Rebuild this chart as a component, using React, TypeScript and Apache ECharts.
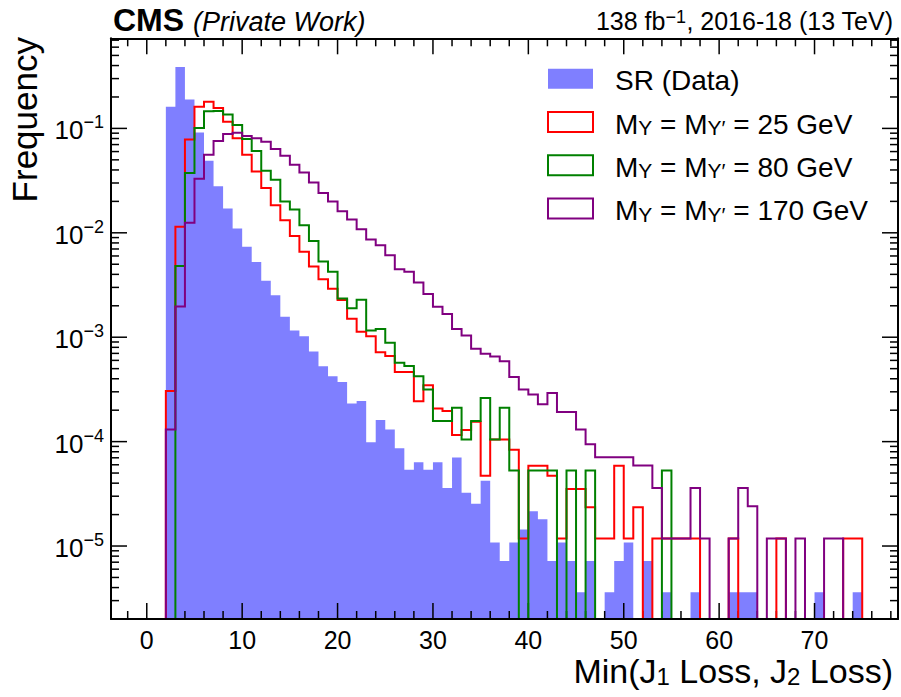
import React, { useEffect, useRef } from 'react';
import * as echarts from 'echarts';

const FONT = '"Liberation Sans", Arial, Helvetica, sans-serif';

// Unit-width bins covering [0, 75)
const BIN_COUNT = 75;
const BIN_WIDTH = 1;
const binLow = Array.from({ length: BIN_COUNT }, (_, i) => i * BIN_WIDTH);

// Normalised frequencies per bin
const srData = [
  0, 0, 0.161, 0.387, 0.189, 0.0916, 0.049, 0.0279, 0.0171, 0.011,
  0.00736, 0.00526, 0.00347, 0.00253, 0.00157, 0.00116, 0.00102, 0.000731, 0.000526, 0.000423,
  0.000372, 0.000232, 0.000245, 0.0000986, 0.000161, 0.000131, 0.0000865, 0.0000537, 0.0000636, 0.0000537,
  0.0000636, 0.000036, 0.0000705, 0.0000323, 0.0000254, 0.0000423, 0.0000108, 0.0000072, 0.0000108, 0.0000144,
  0.0000215, 0.000018, 0.0000072, 0.0000108, 0.0000072, 0.0000036, 0.0000072, 0, 0.0000036, 0.0000072,
  0.0000108, 0, 0.0000072, 0, 0.0000036, 0, 0, 0.0000036, 0, 0,
  0, 0.0000036, 0.0000036, 0.0000036, 0, 0, 0, 0, 0, 0,
  0.0000036, 0, 0, 0, 0.0000036,
];

const my25Data = [
  0, 0, 3.06e-4, 0.0114, 0.0785, 0.161, 0.18, 0.157, 0.116, 0.0803,
  0.0558, 0.0387, 0.0269, 0.0184, 0.0132, 0.00931, 0.00659, 0.00475, 0.0036, 0.00292,
  0.00227, 0.0015, 0.00113, 0.00102, 7.19e-4, 6.59e-4, 4.65e-4, 4.65e-4, 2.44e-4, 3.47e-4,
  2.08e-4, 1.97e-4, 1.16e-4, 1.29e-4, 1.55e-4, 4.71e-5, 1.05e-4, 1.05e-4, 8.34e-5, 1.18e-5,
  5.87e-5, 5.87e-5, 4.71e-5, 1.18e-5, 3.52e-5, 3.52e-5, 2.35e-5, 1.18e-5, 1.18e-5, 5.87e-5,
  1.18e-5, 2.35e-5, 0, 1.18e-5, 1.18e-5, 1.18e-5, 1.18e-5, 1.18e-5, 0, 0,
  0, 1.18e-5, 0, 0, 0, 0, 1.18e-5, 0, 0, 0,
  0, 0, 0, 1.18e-5, 1.18e-5,
];

const my80Data = [
  0, 0, 0, 0.00482, 0.0373, 0.101, 0.146, 0.147, 0.136, 0.108,
  0.0792, 0.0609, 0.0393, 0.0323, 0.02, 0.0167, 0.0118, 0.00833, 0.0053, 0.00423,
  0.00235, 0.00189, 0.00229, 0.00116, 0.0012, 8.85e-4, 5.7e-4, 5.3e-4, 4.23e-4, 3.16e-4,
  1.58e-4, 1.58e-4, 2.11e-4, 1.05e-4, 1.58e-4, 2.62e-4, 1.05e-4, 2.11e-4, 5.3e-5, 0,
  5.3e-5, 5.3e-5, 5.3e-5, 0, 5.3e-5, 0, 5.3e-5, 0, 0, 0,
  0, 0, 0, 0, 5.3e-5, 0, 0, 0, 0, 0,
  0, 0, 0, 0, 0, 0, 0, 0, 0, 0,
  0, 0, 0, 0, 0,
];

const my170Data = [
  0, 0, 1.31e-4, 1.97e-3, 0.01245, 0.033, 0.0558, 0.0759, 0.0885, 0.091,
  0.0847, 0.0803, 0.0747, 0.0636, 0.0546, 0.0448, 0.0378, 0.0304, 0.024, 0.02,
  0.0161, 0.0134, 0.0108, 0.00865, 0.00759, 0.00609, 0.00448, 0.00423, 0.00334, 0.00259,
  0.00196, 0.00167, 0.0012, 0.00104, 7.76e-4, 6.95e-4, 6.55e-4, 5.87e-4, 4.16e-4, 3.16e-4,
  2.83e-4, 2.28e-4, 2.93e-4, 1.92e-4, 1.92e-4, 1.31e-4, 9.44e-5, 7.1e-5, 7.1e-5, 7.1e-5,
  7.1e-5, 5.9e-5, 5.9e-5, 3.6e-5, 1.18e-5, 1.18e-5, 1.18e-5, 3.6e-5, 1.18e-5, 0,
  0, 1.18e-5, 3.6e-5, 2.4e-5, 0, 1.18e-5, 1.18e-5, 0, 1.18e-5, 0,
  0, 1.18e-5, 1.18e-5, 0, 0,
];

// Axis ranges and tick positions
const X_RANGE = [-3.75, 78.75];
const Y_RANGE = [2.0e-6, 0.7295];
const xMajorTicks = [0, 10, 20, 30, 40, 50, 60, 70];
const xMinorTicks = [-2, 2, 4, 6, 8, 12, 14, 16, 18, 22, 24, 26, 28, 32, 34, 36, 38, 42, 44, 46, 48, 52, 54, 56, 58, 62, 64, 66, 68, 72, 74, 76, 78];
const yMajorExponents = [-5, -4, -3, -2, -1];
const yMinorMantissas = [2, 3, 4, 5, 6, 7, 8, 9];
const yMinorExponents = [-6, -5, -4, -3, -2, -1];

const MAJOR_LEN = 16;
const MINOR_LEN = 8;

const COLORS = {
  sr: 'rgba(0, 0, 255, 0.5)',
  my25: '#ff0000',
  my80: '#008000',
  my170: '#800080',
};

const histRows = (values: number[]) => values.map((v, i) => [binLow[i], binLow[i] + BIN_WIDTH, v]);

// Builds the step outline of a histogram through the axes' own scales
function stepPoints(params: any, api: any) {
  const cs = params.coordSys;
  const floor = cs.y + cs.height + 20;
  const n = params.dataInsideLength;
  const xPix = (x: number) => api.coord([x, 1e-3])[0];
  const yPix = (v: number) => (v > 0 ? api.coord([0, v])[1] : floor);
  const pts: number[][] = [[xPix(api.value(0, 0)), floor]];
  for (let j = 0; j < n; j++) {
    const y = yPix(api.value(2, j));
    pts.push([xPix(api.value(0, j)), y], [xPix(api.value(1, j)), y]);
  }
  pts.push([xPix(api.value(1, n - 1)), floor]);
  return pts;
}

function stepSeries(name: string, values: number[], color: string, z: number) {
  return {
    type: 'custom',
    name,
    z,
    clip: true,
    silent: true,
    itemStyle: { color },
    encode: { x: [0, 1], y: 2 },
    data: histRows(values),
    renderItem: (params: any, api: any) => {
      if (params.dataIndexInside !== 0) return null;
      return {
        type: 'polyline',
        shape: { points: stepPoints(params, api) },
        style: { stroke: color, lineWidth: 2, fill: null, lineJoin: 'miter' },
      };
    },
  };
}

const xTickRows = [
  ...xMajorTicks.map((v) => [v, 1e-3, MAJOR_LEN]),
  ...xMinorTicks.map((v) => [v, 1e-3, MINOR_LEN]),
];
const yTickRows = [
  ...yMajorExponents.map((e) => [0, Math.pow(10, e), MAJOR_LEN]),
  ...yMinorExponents.flatMap((e) => yMinorMantissas.map((m) => [0, m * Math.pow(10, e), MINOR_LEN])),
].filter((r) => r[1] > Y_RANGE[0] && r[1] < Y_RANGE[1]);

const tickStyle = { stroke: '#000', lineWidth: 1.5 };

const legendLabels: Record<string, string> = {
  'SR (Data)': '{t|SR (Data)}',
  my25: '{t|M}{s|Y}{t| = M}{s|Y′}{t| = 25 GeV}',
  my80: '{t|M}{s|Y}{t| = M}{s|Y′}{t| = 80 GeV}',
  my170: '{t|M}{s|Y}{t| = M}{s|Y′}{t| = 170 GeV}',
};

const frameLine = { show: true, onZero: false, lineStyle: { color: '#000', width: 2 } };

function buildOption(): any {
  return {
    animation: false,
    backgroundColor: '#fff',
    grid: { left: 111, top: 38.3, right: 3, bottom: 78, containLabel: false },
    xAxis: [
      {
        type: 'value',
        min: X_RANGE[0],
        max: X_RANGE[1],
        splitNumber: 8,
        position: 'bottom',
        z: 10,
        axisLine: frameLine,
        axisTick: { show: false },
        splitLine: { show: false },
        axisLabel: {
          margin: 10,
          color: '#000',
          fontSize: 25,
          lineHeight: 22,
          fontFamily: FONT,
          formatter: (v: number) => {
            const r = Math.round(v);
            return Math.abs(v - r) < 1e-6 && xMajorTicks.includes(r) ? String(r) : '';
          },
        },
      },
      {
        type: 'value',
        min: X_RANGE[0],
        max: X_RANGE[1],
        position: 'top',
        z: 10,
        axisLine: frameLine,
        axisTick: { show: false },
        axisLabel: { show: false },
        splitLine: { show: false },
      },
    ],
    yAxis: [
      {
        type: 'log',
        logBase: 10,
        min: Y_RANGE[0],
        max: Y_RANGE[1],
        position: 'left',
        z: 10,
        axisLine: frameLine,
        axisTick: { show: false },
        splitLine: { show: false },
        axisLabel: {
          margin: 7,
          formatter: (v: number) => {
            const e = Math.log10(v);
            const r = Math.round(e);
            if (Math.abs(e - r) > 1e-3 || !yMajorExponents.includes(r)) return '';
            return `{b|10}{s|−${Math.abs(r)}}`;
          },
          rich: {
            b: { fontSize: 26, fontFamily: FONT, color: '#000', lineHeight: 30, verticalAlign: 'bottom' },
            s: { fontSize: 18, fontFamily: FONT, color: '#000', lineHeight: 18, verticalAlign: 'top' },
          },
        },
      },
      {
        type: 'log',
        logBase: 10,
        min: Y_RANGE[0],
        max: Y_RANGE[1],
        position: 'right',
        z: 10,
        axisLine: frameLine,
        axisTick: { show: false },
        axisLabel: { show: false },
        splitLine: { show: false },
      },
    ],
    legend: {
      orient: 'vertical',
      left: 547,
      top: 66.7,
      padding: 0,
      itemWidth: 45,
      itemHeight: 20,
      itemGap: 15.3,
      selectedMode: false,
      data: [
        { name: 'SR (Data)', icon: 'rect', itemStyle: { color: COLORS.sr, borderWidth: 0 } },
        { name: 'my25', icon: 'rect', itemStyle: { color: '#fff', borderColor: COLORS.my25, borderWidth: 2 } },
        { name: 'my80', icon: 'rect', itemStyle: { color: '#fff', borderColor: COLORS.my80, borderWidth: 2 } },
        { name: 'my170', icon: 'rect', itemStyle: { color: '#fff', borderColor: COLORS.my170, borderWidth: 2 } },
      ],
      formatter: (name: string) => legendLabels[name],
      textStyle: {
        padding: [0, 0, 0, 17],
        color: '#000',
        fontSize: 28,
        fontFamily: FONT,
        rich: {
          t: { fontSize: 28, fontFamily: FONT, color: '#000', lineHeight: 32, verticalAlign: 'bottom' },
          s: { fontSize: 21, fontFamily: FONT, color: '#000', lineHeight: 17, verticalAlign: 'bottom' },
        },
      },
    },
    graphic: [
      {
        type: 'text',
        x: 113,
        y: 19.8,
        style: { text: 'CMS', font: `bold 32px ${FONT}`, fill: '#000', verticalAlign: 'middle' },
      },
      {
        type: 'text',
        x: 193,
        y: 21.9,
        style: { text: '(Private Work)', font: `italic 27px ${FONT}`, fill: '#000', verticalAlign: 'middle' },
      },
      {
        type: 'text',
        x: 893,
        y: 8,
        style: {
          text: '{b|138 fb}{s|−1}{b|, 2016-18 (13 TeV)}',
          align: 'right',
          verticalAlign: 'top',
          rich: {
            b: { fontSize: 25, fontFamily: FONT, fill: '#000', lineHeight: 25, verticalAlign: 'bottom' },
            s: { fontSize: 18, fontFamily: FONT, fill: '#000', lineHeight: 18, verticalAlign: 'top' },
          },
        },
      },
      {
        type: 'text',
        x: 42,
        y: 37,
        rotation: Math.PI / 2,
        style: { text: 'Frequency', font: `35px ${FONT}`, fill: '#000', align: 'right', verticalAlign: 'bottom' },
      },
      {
        type: 'text',
        x: 893,
        y: 654,
        style: {
          text: '{m|Min(J}{s|1}{m| Loss, J}{s|2}{m| Loss)}',
          align: 'right',
          verticalAlign: 'top',
          rich: {
            m: { fontSize: 34, fontFamily: FONT, fill: '#000', lineHeight: 34, verticalAlign: 'top' },
            s: { fontSize: 24, fontFamily: FONT, fill: '#000', lineHeight: 24, padding: [16, 0, 0, 0], verticalAlign: 'bottom' },
          },
        },
      },
    ],
    series: [
      {
        type: 'custom',
        name: 'SR (Data)',
        z: 2,
        clip: true,
        silent: true,
        itemStyle: { color: COLORS.sr },
        encode: { x: [0, 1], y: 2 },
        data: histRows(srData),
        renderItem: (params: any, api: any) => {
          if (params.dataIndexInside !== 0) return null;
          return {
            type: 'polygon',
            shape: { points: stepPoints(params, api) },
            style: { fill: COLORS.sr, stroke: null },
          };
        },
      },
      {
        type: 'custom',
        name: 'xTicks',
        z: 3,
        silent: true,
        encode: { x: 0, y: 1 },
        data: xTickRows,
        renderItem: (params: any, api: any) => {
          const cs = params.coordSys;
          const px = api.coord([api.value(0), api.value(1)])[0];
          const len = api.value(2);
          const bottom = cs.y + cs.height;
          return {
            type: 'group',
            children: [
              { type: 'line', shape: { x1: px, y1: bottom, x2: px, y2: bottom - len }, style: tickStyle },
              { type: 'line', shape: { x1: px, y1: cs.y, x2: px, y2: cs.y + len }, style: tickStyle },
            ],
          };
        },
      },
      {
        type: 'custom',
        name: 'yTicks',
        z: 3,
        silent: true,
        encode: { x: 0, y: 1 },
        data: yTickRows,
        renderItem: (params: any, api: any) => {
          const cs = params.coordSys;
          const py = api.coord([api.value(0), api.value(1)])[1];
          const len = api.value(2);
          const right = cs.x + cs.width;
          return {
            type: 'group',
            children: [
              { type: 'line', shape: { x1: cs.x, y1: py, x2: cs.x + len, y2: py }, style: tickStyle },
              { type: 'line', shape: { x1: right, y1: py, x2: right - len, y2: py }, style: tickStyle },
            ],
          };
        },
      },
      stepSeries('my25', my25Data, COLORS.my25, 4),
      stepSeries('my80', my80Data, COLORS.my80, 5),
      stepSeries('my170', my170Data, COLORS.my170, 6),
    ],
  };
}

export default function App() {
  const ref = useRef<HTMLDivElement>(null);
  useEffect(() => {
    if (!ref.current) return;
    const chart = echarts.init(ref.current, undefined, { renderer: 'svg' });
    chart.setOption(buildOption());
    return () => chart.dispose();
  }, []);
  return (
    <div
      ref={ref}
      style={{ position: 'fixed', left: 0, top: 0, width: 901, height: 697, background: '#fff' }}
    />
  );
}
